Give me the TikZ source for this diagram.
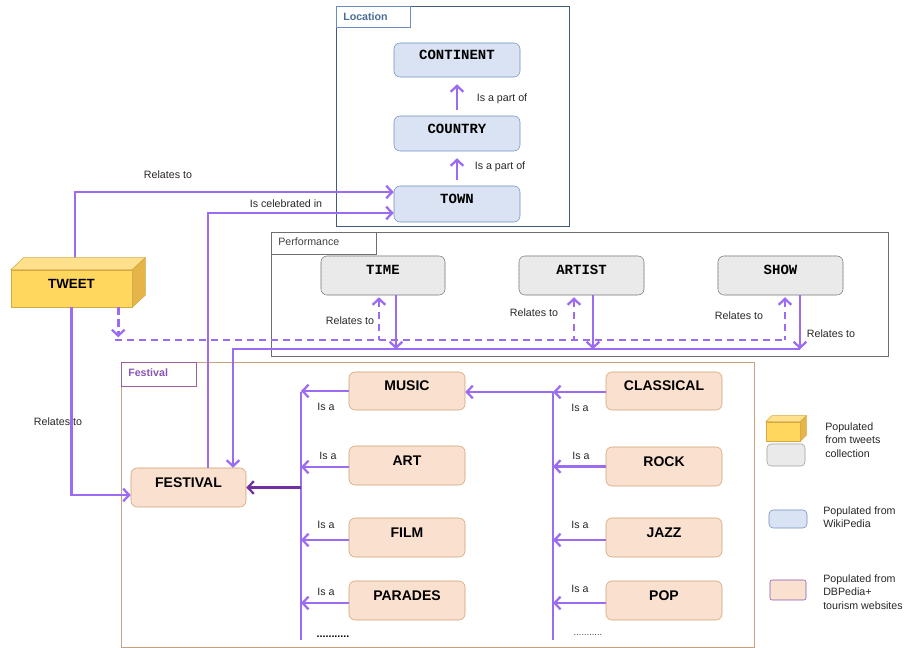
\documentclass[tikz,border=0pt]{standalone}
\usepackage{fontspec}
\setmainfont{Liberation Sans}
\setmonofont{Liberation Mono}
\usetikzlibrary{positioning,arrows.meta,patterns}
\definecolor{rel-purple}{HTML}{9B6BF2}
\definecolor{rel-dark}{HTML}{7030A0}
\definecolor{wiki-blue}{HTML}{DAE3F3}
\definecolor{wiki-border}{HTML}{6C8EBF}
\definecolor{dbp-peach}{HTML}{FAE1CF}
\definecolor{dbp-border}{HTML}{D29D6E}
\definecolor{perf-grey}{HTML}{EBEBEB}
\definecolor{perf-border}{HTML}{6E6E6E}
\definecolor{tweet-front}{HTML}{FFD75E}
\definecolor{tweet-top}{HTML}{FFE08C}
\definecolor{tweet-side}{HTML}{E6B54A}
\definecolor{tweet-border}{HTML}{D6A940}
\definecolor{location-frame}{HTML}{3E5C7E}
\definecolor{location-title}{HTML}{4A6D96}
\definecolor{festival-frame}{HTML}{C9A07F}
\definecolor{festival-tab}{HTML}{9C5E9C}
\definecolor{festival-title}{HTML}{8A55B5}
\newlength{\basisfestivalmap}
\setlength{\basisfestivalmap}{0.75pt}

\tikzset{
  location-entity/.style={minimum width=126\basisfestivalmap, minimum height=35\basisfestivalmap,
    fill=wiki-blue, draw=wiki-border, rounded corners=6\basisfestivalmap,
    text height=7.5pt, text depth=7.5pt, font=\ttfamily\bfseries\fontsize{10.5}{12}\selectfont},
  performance-entity/.style={minimum width=124\basisfestivalmap, minimum height=39\basisfestivalmap,
    fill=perf-grey, draw=perf-border, rounded corners=6\basisfestivalmap,
    postaction={pattern=crosshatch dots, pattern color=black!10},
    text height=7.5pt, text depth=9pt, font=\ttfamily\bfseries\fontsize{10.5}{12}\selectfont},
  festival-entity/.style={minimum width=116\basisfestivalmap, minimum height=39\basisfestivalmap,
    fill=dbp-peach, draw=dbp-border, rounded corners=6\basisfestivalmap,
    text height=7.5pt, text depth=7.5pt, font=\bfseries\fontsize{10.5}{12}\selectfont},
  relation/.style={draw=rel-purple, line width=1.9pt},
  dark-relation/.style={draw=rel-dark, line width=1.9pt},
  relation-dashed/.style={relation, dash pattern=on 5.5pt off 3.5pt},
  relation-label/.style={inner sep=0pt, font=\fontsize{8}{9.5}\selectfont, text=black!85},
  legend-text/.style={anchor=west, align=left, inner sep=0pt, font=\fontsize{8}{10}\selectfont, text=black!85},
  frame-line/.style={line width=0.6pt},
}

\begin{document}
\begin{tikzpicture}[>={Straight Barb[length=4.5pt,width=9.5pt,line width=1.7pt]}]
    \useasboundingbox (0,0) rectangle (908\basisfestivalmap,-648\basisfestivalmap);

    % frames
    \draw[location-frame, frame-line] (336\basisfestivalmap,-6\basisfestivalmap) rectangle (569\basisfestivalmap,-226\basisfestivalmap);
    \draw[wiki-border, frame-line] (336\basisfestivalmap,-6\basisfestivalmap) rectangle (410\basisfestivalmap,-27\basisfestivalmap);
    \node[anchor=west, inner sep=0pt, text=location-title, font=\bfseries\fontsize{8}{9.5}\selectfont] (location-title) at (343\basisfestivalmap,-16.5\basisfestivalmap) {Location};

    \draw[perf-border, frame-line] (271\basisfestivalmap,-232\basisfestivalmap) rectangle (888\basisfestivalmap,-356\basisfestivalmap);
    \draw[perf-border, frame-line] (271\basisfestivalmap,-232\basisfestivalmap) rectangle (376\basisfestivalmap,-254\basisfestivalmap);
    \node[anchor=west, inner sep=0pt, text=black!75, font=\fontsize{8}{9.5}\selectfont] (performance-title) at (278\basisfestivalmap,-242\basisfestivalmap) {Performance};

    \draw[festival-frame, frame-line] (121\basisfestivalmap,-362\basisfestivalmap) rectangle (754\basisfestivalmap,-647\basisfestivalmap);
    \draw[festival-tab, frame-line] (121\basisfestivalmap,-362\basisfestivalmap) rectangle (196\basisfestivalmap,-386\basisfestivalmap);
    \node[anchor=west, inner sep=0pt, text=festival-title, font=\bfseries\fontsize{8}{9.5}\selectfont] (festival-title) at (128\basisfestivalmap,-373\basisfestivalmap) {Festival};

    % location
    \node[location-entity, minimum height=34\basisfestivalmap] (continent) at (457\basisfestivalmap,-60\basisfestivalmap) {CONTINENT};
    \node[location-entity] (country) at (457\basisfestivalmap,-133.5\basisfestivalmap) {COUNTRY};
    \node[location-entity, minimum height=36\basisfestivalmap] (town) at (457\basisfestivalmap,-204\basisfestivalmap) {TOWN};

    % performance
    \node[performance-entity] (time) at (383\basisfestivalmap,-275.5\basisfestivalmap) {TIME};
    \node[performance-entity, minimum width=125\basisfestivalmap] (artist) at (581.5\basisfestivalmap,-275.5\basisfestivalmap) {ARTIST};
    \node[performance-entity, minimum width=125\basisfestivalmap] (show) at (780.5\basisfestivalmap,-275.5\basisfestivalmap) {SHOW};

    % tweet
    \node[minimum width=121\basisfestivalmap, minimum height=37\basisfestivalmap, fill=tweet-front, draw=tweet-border,
        text height=7.5pt, text depth=7.5pt, font=\bfseries\fontsize{10}{12}\selectfont] (tweet) at (71.5\basisfestivalmap,-288.5\basisfestivalmap) {TWEET};
    \draw[relation, ->] ([xshift=3.5\basisfestivalmap, yshift=12\basisfestivalmap]tweet.north) |- ([yshift=12\basisfestivalmap]town.west);
    \draw[tweet-border, fill=tweet-top] (tweet.north west) -- ++(13\basisfestivalmap,12\basisfestivalmap)
        -- ([xshift=13\basisfestivalmap, yshift=12\basisfestivalmap]tweet.north east) -- (tweet.north east) -- cycle;
    \draw[tweet-border, fill=tweet-side] (tweet.north east) -- ++(13\basisfestivalmap,12\basisfestivalmap)
        -- ([xshift=13\basisfestivalmap, yshift=12\basisfestivalmap]tweet.south east) -- (tweet.south east) -- cycle;

    % festival
    \node[festival-entity, minimum width=115\basisfestivalmap] (festival) at (188.5\basisfestivalmap,-487.5\basisfestivalmap) {FESTIVAL};
    \node[festival-entity, minimum height=38\basisfestivalmap] (music) at (407\basisfestivalmap,-391\basisfestivalmap) {MUSIC};
    \node[festival-entity] (art) at (407\basisfestivalmap,-465.5\basisfestivalmap) {ART};
    \node[festival-entity] (film) at (407\basisfestivalmap,-537.5\basisfestivalmap) {FILM};
    \node[festival-entity] (parades) at (407\basisfestivalmap,-600.5\basisfestivalmap) {PARADES};
    \node[festival-entity, minimum height=38\basisfestivalmap] (classical) at (664\basisfestivalmap,-391\basisfestivalmap) {CLASSICAL};
    \node[festival-entity] (rock) at (664\basisfestivalmap,-466.5\basisfestivalmap) {ROCK};
    \node[festival-entity] (jazz) at (664\basisfestivalmap,-537.5\basisfestivalmap) {JAZZ};
    \node[festival-entity] (pop) at (664\basisfestivalmap,-600.5\basisfestivalmap) {POP};
    \node[inner sep=0pt, font=\bfseries\fontsize{8}{9.5}\selectfont] (art-dots) at (333\basisfestivalmap,-637\basisfestivalmap) {...........};
    \node[inner sep=0pt, text=black!75, font=\fontsize{7}{8}\selectfont] (music-dots) at (588\basisfestivalmap,-635\basisfestivalmap) {...........};

    % location links
    \draw[relation, ->, shorten <=6\basisfestivalmap, shorten >=7\basisfestivalmap] (country) -- (continent);
    \draw[relation, ->, shorten <=6\basisfestivalmap, shorten >=7\basisfestivalmap] (town) -- (country);
    \node[relation-label] (part-of-continent) at (502\basisfestivalmap,-99\basisfestivalmap) {Is a part of};
    \node[relation-label] (part-of-country) at (500\basisfestivalmap,-167\basisfestivalmap) {Is a part of};

    % tweet links
    \node[relation-label] (tweet-town-label) at (168\basisfestivalmap,-175\basisfestivalmap) {Relates to};
    \draw[relation, ->] (tweet.south) |- ([yshift=-7.5\basisfestivalmap]festival.west);
    \node[relation-label] (tweet-festival-label) at (58\basisfestivalmap,-422\basisfestivalmap) {Relates to};
    \draw[relation, ->] ([xshift=19.5\basisfestivalmap]festival.north) |- ([yshift=-9\basisfestivalmap]town.west);
    \node[relation-label] (celebrated-label) at (286\basisfestivalmap,-204\basisfestivalmap) {Is celebrated in};

    % tweet to performance (dashed)
    \coordinate (tweet-bus) at (115\basisfestivalmap,-340\basisfestivalmap);
    \coordinate (tweet-bus-end) at (785\basisfestivalmap,-340\basisfestivalmap);
    \draw[relation-dashed, ->] ([xshift=-14\basisfestivalmap]tweet.south east) -- ++(0,-30\basisfestivalmap);
    \draw[relation-dashed] (tweet-bus) -- (tweet-bus-end);
    \draw[relation-dashed, <-, shorten <=2\basisfestivalmap] ([xshift=-4\basisfestivalmap]time.south) -- ++(0,-45\basisfestivalmap);
    \draw[relation-dashed, <-, shorten <=2\basisfestivalmap] ([xshift=-7.5\basisfestivalmap]artist.south) -- ++(0,-45\basisfestivalmap);
    \draw[relation-dashed, <-, shorten <=2\basisfestivalmap] ([xshift=4.5\basisfestivalmap]show.south) -- ++(0,-45\basisfestivalmap);

    % performance to festival
    \coordinate (perf-bus) at (800\basisfestivalmap,-349\basisfestivalmap);
    \draw[relation, ->] (perf-bus) -| ([xshift=44.5\basisfestivalmap]festival.north);
    \draw[relation, ->] ([xshift=13\basisfestivalmap]time.south) -- ++(0,-54\basisfestivalmap);
    \draw[relation, ->] ([xshift=11.5\basisfestivalmap]artist.south) -- ++(0,-54\basisfestivalmap);
    \draw[relation, ->] ([xshift=19.5\basisfestivalmap]show.south) -- ++(0,-54\basisfestivalmap);
    \node[relation-label] (time-label) at (350\basisfestivalmap,-321\basisfestivalmap) {Relates to};
    \node[relation-label] (artist-label) at (534\basisfestivalmap,-313\basisfestivalmap) {Relates to};
    \node[relation-label] (show-label) at (739\basisfestivalmap,-316\basisfestivalmap) {Relates to};
    \node[relation-label] (festival-show-label) at (831\basisfestivalmap,-334\basisfestivalmap) {Relates to};

    % kinds of festival
    \coordinate (kind-spine-top) at (301\basisfestivalmap,-392\basisfestivalmap);
    \coordinate (kind-spine-bottom) at (301\basisfestivalmap,-640\basisfestivalmap);
    \draw[relation] (kind-spine-top) -- (kind-spine-bottom);
    \draw[relation, ->] (music.west) -- (music.west -| kind-spine-top);
    \draw[relation, ->] ([yshift=-1.5\basisfestivalmap]art.west) -- ([yshift=-1.5\basisfestivalmap]art.west -| kind-spine-top);
    \draw[relation, ->] ([yshift=-2.5\basisfestivalmap]film.west) -- ([yshift=-2.5\basisfestivalmap]film.west -| kind-spine-top);
    \draw[relation, ->] ([yshift=-2.5\basisfestivalmap]parades.west) -- ([yshift=-2.5\basisfestivalmap]parades.west -| kind-spine-top);
    \draw[dark-relation, ->] (festival.east -| kind-spine-top) -- (festival.east);
    \node[relation-label] (music-isa) at (326\basisfestivalmap,-407\basisfestivalmap) {Is a};
    \node[relation-label] (art-isa) at (328\basisfestivalmap,-456\basisfestivalmap) {Is a};
    \node[relation-label] (film-isa) at (326\basisfestivalmap,-525\basisfestivalmap) {Is a};
    \node[relation-label] (parades-isa) at (326\basisfestivalmap,-592\basisfestivalmap) {Is a};

    % kinds of music
    \coordinate (genre-spine-top) at (553\basisfestivalmap,-392\basisfestivalmap);
    \coordinate (genre-spine-bottom) at (553\basisfestivalmap,-640\basisfestivalmap);
    \draw[relation] (genre-spine-top) -- (genre-spine-bottom);
    \draw[relation, ->] (genre-spine-top) -- ([yshift=-1\basisfestivalmap]music.east);
    \draw[relation, ->] ([yshift=-1\basisfestivalmap]classical.west) -- ([yshift=-1\basisfestivalmap]classical.west -| genre-spine-top);
    \draw[relation, ->] (rock.west) -- (rock.west -| genre-spine-top);
    \draw[relation, ->] ([yshift=-2.5\basisfestivalmap]jazz.west) -- ([yshift=-2.5\basisfestivalmap]jazz.west -| genre-spine-top);
    \draw[relation, ->] ([yshift=-2.5\basisfestivalmap]pop.west) -- ([yshift=-2.5\basisfestivalmap]pop.west -| genre-spine-top);
    \node[relation-label] (classical-isa) at (580\basisfestivalmap,-408\basisfestivalmap) {Is a};
    \node[relation-label] (rock-isa) at (581\basisfestivalmap,-456\basisfestivalmap) {Is a};
    \node[relation-label] (jazz-isa) at (580\basisfestivalmap,-525\basisfestivalmap) {Is a};
    \node[relation-label] (pop-isa) at (580\basisfestivalmap,-589\basisfestivalmap) {Is a};

    % legend
    \node[minimum width=34\basisfestivalmap, minimum height=19\basisfestivalmap, inner sep=0pt, fill=tweet-front, draw=tweet-border] (legend-tweet) at (783\basisfestivalmap,-431.5\basisfestivalmap) {};
    \draw[tweet-border, fill=tweet-top] (legend-tweet.north west) -- ++(6\basisfestivalmap,6\basisfestivalmap)
        -- ([xshift=6\basisfestivalmap, yshift=6\basisfestivalmap]legend-tweet.north east) -- (legend-tweet.north east) -- cycle;
    \draw[tweet-border, fill=tweet-side] (legend-tweet.north east) -- ++(6\basisfestivalmap,6\basisfestivalmap)
        -- ([xshift=6\basisfestivalmap, yshift=6\basisfestivalmap]legend-tweet.south east) -- (legend-tweet.south east) -- cycle;
    \node[minimum width=38\basisfestivalmap, minimum height=22\basisfestivalmap, inner sep=0pt, fill=perf-grey, draw=perf-border!70, rounded corners=4\basisfestivalmap,
        postaction={pattern=crosshatch dots, pattern color=black!10}] (legend-performance) at (786\basisfestivalmap,-455\basisfestivalmap) {};
    \node[minimum width=38\basisfestivalmap, minimum height=18\basisfestivalmap, inner sep=0pt, fill=wiki-blue, draw=wiki-border, rounded corners=4\basisfestivalmap] (legend-wiki) at (788\basisfestivalmap,-519\basisfestivalmap) {};
    \node[minimum width=36\basisfestivalmap, minimum height=20\basisfestivalmap, inner sep=0pt, fill=dbp-peach, draw=festival-title, rounded corners=2\basisfestivalmap] (legend-dbpedia) at (788\basisfestivalmap,-590\basisfestivalmap) {};
    \node[legend-text] (legend-tweet-text) at (825\basisfestivalmap,-440\basisfestivalmap) {Populated\\from tweets\\collection};
    \node[legend-text] (legend-wiki-text) at (823\basisfestivalmap,-517\basisfestivalmap) {Populated from\\WikiPedia};
    \node[legend-text] (legend-dbpedia-text) at (823\basisfestivalmap,-592\basisfestivalmap) {Populated from\\DBPedia+\\tourism websites};
\end{tikzpicture}
\end{document}
